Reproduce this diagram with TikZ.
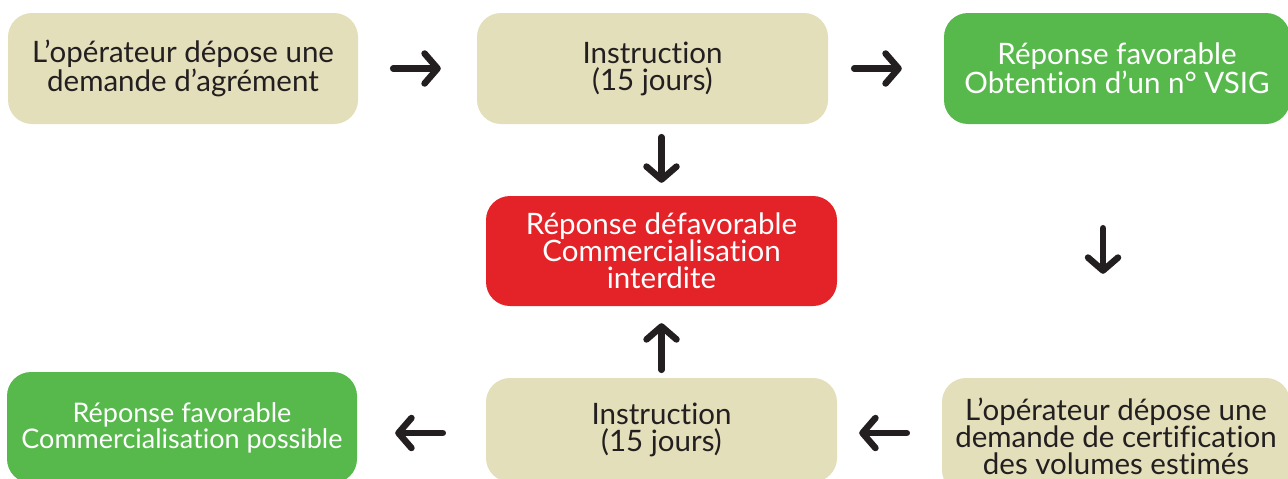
\documentclass[tikz,border=0pt]{standalone}
\usepackage{fontspec}
\setmainfont{Lato}[Ligatures=NoCommon]
\usetikzlibrary{arrows.meta}
\definecolor{beige}{RGB}{227,223,187}
\definecolor{vert}{RGB}{87,185,76}
\definecolor{rouge}{RGB}{228,35,40}
\definecolor{encre}{RGB}{35,31,32}
\begin{document}
\begin{tikzpicture}[x=1pt,y=-1pt,
  box/.style={rounded corners=24pt, inner sep=0pt, align=center,
    font=\fontsize{29.5}{27}\selectfont, text=encre},
  smalltext/.style={font=\fontsize{27}{26}\selectfont},
  beigebox/.style={box, fill=beige},
  greenbox/.style={box, fill=vert, text=white},
  redbox/.style={box, fill=rouge, text=white},
  flow/.style={draw=encre, line width=6.5pt, line cap=round,
    -{Straight Barb[length=13pt,width=30pt,round]}},
]
\useasboundingbox (0,0) rectangle (1288,479);
\clip (0,0) rectangle (1288,479);

% top row
\node[beigebox, minimum width=350pt, minimum height=111pt] (a) at (183,68.5)
  {L’opérateur dépose une\\demande d’agrément};
\node[beigebox, minimum width=351pt, minimum height=111pt] (b) at (652.5,68.5)
  {Instruction\\(15 jours)};
\node[greenbox, minimum width=346pt, minimum height=111pt] (c) at (1117,68.5)
  {Réponse favorable\\Obtention d’un n° VSIG};

% middle
\node[redbox, minimum width=351pt, minimum height=110pt] (d) at (661.5,251)
  {Réponse défavorable\\Commercialisation\\interdite};

% bottom row
\node[greenbox, smalltext, minimum width=350pt, minimum height=111pt] (e) at (182,427.5)
  {Réponse favorable\\Commercialisation possible};
\node[beigebox, minimum width=351pt, minimum height=104pt] (f) at (661.5,430)
  {Instruction\\(15 jours)};
\node[beigebox, minimum width=348pt, minimum height=116pt] (g) at (1116,436)
  {L’opérateur dépose une\\demande de certification\\des volumes estimés};

\coordinate (row) at (0,433);
\coordinate (col) at (1103,0);

% connectors
\draw[flow, shorten <=35pt, shorten >=36pt] (a.east) -- (b.west);
\draw[flow, shorten <=26pt, shorten >=42pt] (b.east) -- (c.west);
\draw[flow, shorten <=13pt, shorten >=13pt] (b.south -| d.north) -- (d.north);
\draw[flow, shorten <=104pt, shorten >=104pt] (c.south -| col) -- (g.north -| col);
\draw[flow, shorten <=35pt, shorten >=22pt] (g.west |- row) -- (f.east |- row);
\draw[flow, shorten <=8pt, shorten >=17pt] (f.north) -- (d.south);
\draw[flow, shorten <=43pt, shorten >=38pt] (f.west |- row) -- (e.east |- row);
\end{tikzpicture}
\end{document}
